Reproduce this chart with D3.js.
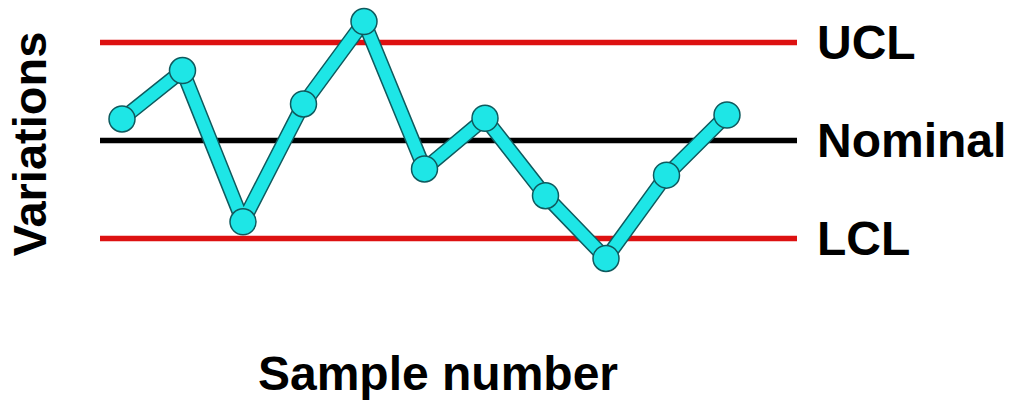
<!DOCTYPE html>
<html><head><meta charset="utf-8">
<script src="https://cdn.jsdelivr.net/npm/d3@7"></script>
<style>html,body{margin:0;padding:0;background:#fff;}svg{display:block;}</style>
</head><body>
<script>
const samples = [1,2,3,4,5,6,7,8,9,10,11];
const variations = [0.66, 2.14, -2.49, 1.12, 3.64, -0.87, 0.68, -1.69, -3.61, -1.06, 0.78];
const limitNames = ["UCL", "Nominal", "LCL"];
const limitValues = [3, 0, -3];
const limitColors = ["#dd1111", "#000000", "#dd1111"];

const W = 1011, H = 406;
const svg = d3.select("body").append("svg").attr("width", W).attr("height", H);
const font = "'Liberation Sans', Arial, sans-serif";

const x = d3.scaleLinear().domain([1, 11]).range([122, 727]);
const y = d3.scaleLinear().domain([-3, 3]).range([238.5, 42.5]);
const lineX0 = 100, lineX1 = 797;

svg.selectAll("line.limit").data(limitValues).join("line")
  .attr("class", "limit")
  .attr("x1", lineX0).attr("x2", lineX1)
  .attr("y1", d => y(d)).attr("y2", d => y(d))
  .attr("stroke", (d, i) => limitColors[i]).attr("stroke-width", 5.5);

svg.selectAll("text.lim").data(limitNames).join("text")
  .attr("class", "lim")
  .attr("x", 817).attr("y", (d, i) => y(limitValues[i]) + 16)
  .attr("font-family", font).attr("font-weight", "bold").attr("font-size", 48)
  .attr("fill", "#000").text(d => d);

const pts = samples.map((s, i) => [x(s), y(variations[i])]);
const line = d3.line().x(d => d[0]).y(d => d[1]);

svg.append("path").attr("d", line(pts)).attr("fill", "none")
  .attr("stroke", "#0f5a5e").attr("stroke-width", 15).attr("stroke-linejoin", "round");
svg.append("path").attr("d", line(pts)).attr("fill", "none")
  .attr("stroke", "#1ee6e6").attr("stroke-width", 12).attr("stroke-linejoin", "round");

svg.selectAll("circle").data(pts).join("circle")
  .attr("cx", d => d[0]).attr("cy", d => d[1]).attr("r", 13)
  .attr("fill", "#1ee6e6").attr("stroke", "#0f5a5e").attr("stroke-width", 1.5);

svg.append("text").attr("x", 438).attr("y", 390).attr("text-anchor", "middle")
  .attr("font-family", font).attr("font-weight", "bold").attr("font-size", 48)
  .text("Sample number");

svg.append("text").attr("transform", "translate(46,144) rotate(-90)")
  .attr("text-anchor", "middle")
  .attr("font-family", font).attr("font-weight", "bold").attr("font-size", 47)
  .text("Variations");
</script>
</body></html>
